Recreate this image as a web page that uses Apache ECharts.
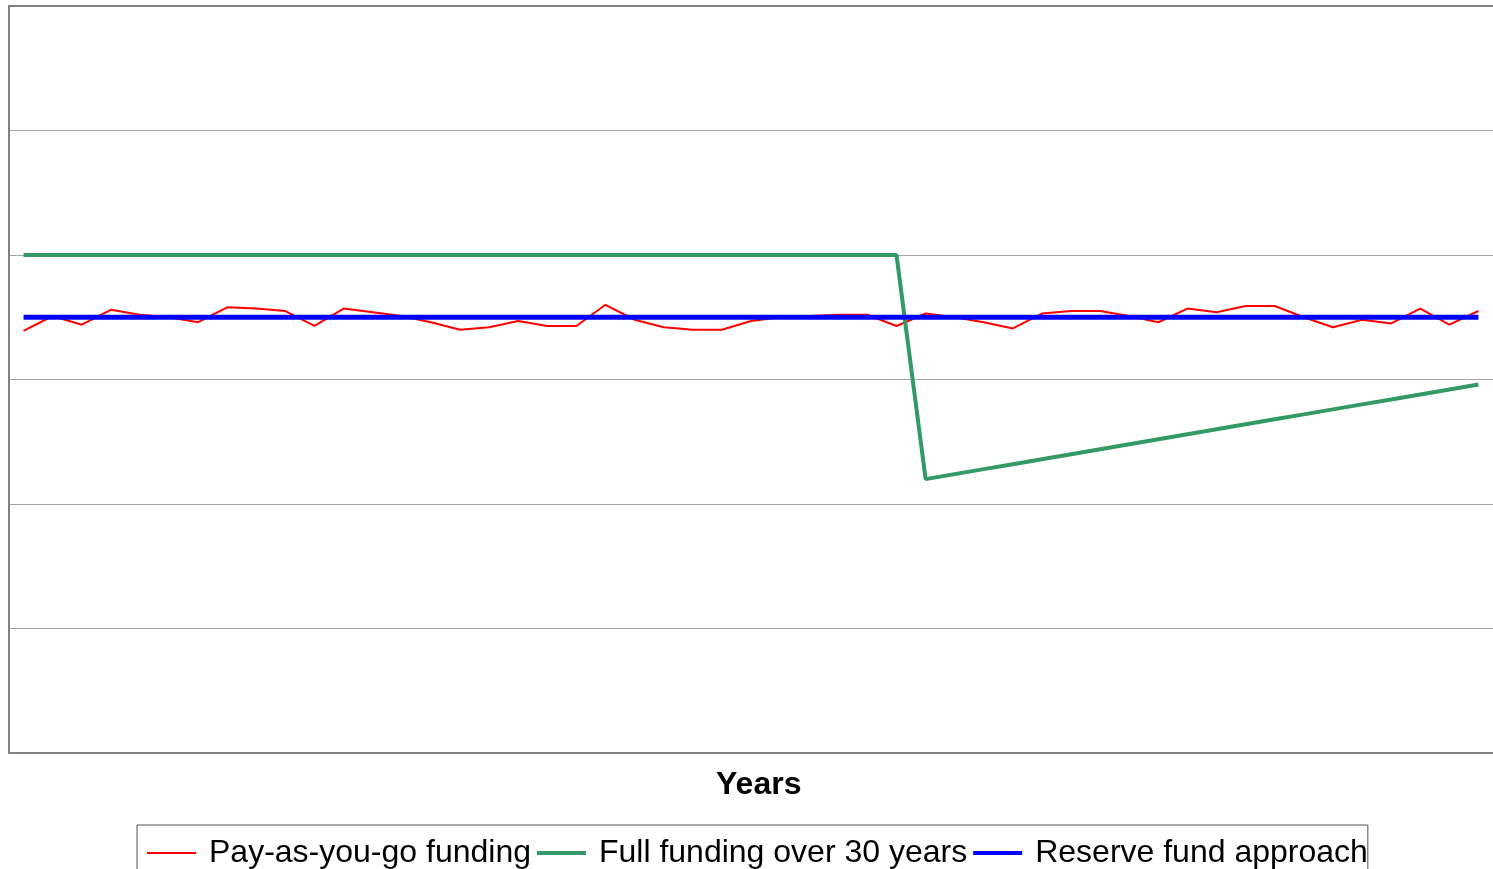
<!DOCTYPE html>
<html>
<head>
<meta charset="utf-8">
<script src="https://cdn.jsdelivr.net/npm/echarts@6/dist/echarts.min.js"></script>
<style>
  html, body { margin: 0; padding: 0; background: #fff; }
  #chart { width: 1493px; height: 869px; }
</style>
</head>
<body>
<div id="chart"></div>
<script>
// Year index 1..51
const years = Array.from({ length: 51 }, (_, i) => String(i + 1));

// Annual contribution under each funding approach (relative units)
const payAsYouGo = [
  3.39, 3.51, 3.44, 3.56, 3.52, 3.50, 3.46, 3.58, 3.57, 3.55,
  3.43, 3.57, 3.54, 3.51, 3.46, 3.40, 3.42, 3.47, 3.43, 3.43,
  3.60, 3.48, 3.42, 3.40, 3.40, 3.47, 3.50, 3.51, 3.52, 3.52,
  3.43, 3.53, 3.50, 3.46, 3.41, 3.53, 3.55, 3.55, 3.51, 3.46,
  3.57, 3.54, 3.59, 3.59, 3.50, 3.42, 3.48, 3.45, 3.57, 3.44,
  3.55
];

const fullFunding30 = [
  4.00, 4.00, 4.00, 4.00, 4.00, 4.00, 4.00, 4.00, 4.00, 4.00,
  4.00, 4.00, 4.00, 4.00, 4.00, 4.00, 4.00, 4.00, 4.00, 4.00,
  4.00, 4.00, 4.00, 4.00, 4.00, 4.00, 4.00, 4.00, 4.00, 4.00,
  4.00, 2.20, 2.24, 2.28, 2.32, 2.36, 2.40, 2.44, 2.48, 2.52,
  2.56, 2.60, 2.64, 2.68, 2.72, 2.76, 2.80, 2.84, 2.88, 2.92,
  2.96
];

const reserveFund = [
  3.50, 3.50, 3.50, 3.50, 3.50, 3.50, 3.50, 3.50, 3.50, 3.50,
  3.50, 3.50, 3.50, 3.50, 3.50, 3.50, 3.50, 3.50, 3.50, 3.50,
  3.50, 3.50, 3.50, 3.50, 3.50, 3.50, 3.50, 3.50, 3.50, 3.50,
  3.50, 3.50, 3.50, 3.50, 3.50, 3.50, 3.50, 3.50, 3.50, 3.50,
  3.50, 3.50, 3.50, 3.50, 3.50, 3.50, 3.50, 3.50, 3.50, 3.50,
  3.50
];

const chart = echarts.init(document.getElementById('chart'), null, { renderer: 'canvas' });

const font = 'Liberation Sans, Arial, Helvetica, sans-serif';
const frame = { color: '#808080', width: 2 };

chart.setOption({
  animation: false,
  backgroundColor: '#ffffff',
  title: {
    text: 'Years',
    left: 711,
    top: 764,
    textStyle: { fontFamily: font, fontSize: 32, fontWeight: 'bold', color: '#000' }
  },
  grid: {
    left: 9,
    right: 0,
    top: 6,
    bottom: 116,
    show: false
  },
  legend: {
    left: 137,
    top: 825,
    orient: 'horizontal',
    itemWidth: 49,
    itemHeight: 4,
    itemGap: 6,
    padding: [12, 0, 10, 10],
    borderColor: '#505050',
    borderWidth: 1,
    borderRadius: 0,
    icon: 'rect',
    textStyle: {
      fontFamily: font,
      fontSize: 32,
      color: '#000',
      padding: [0, 0, 0, 8]
    },
    data: [
      { name: 'Pay-as-you-go funding', itemStyle: { color: '#ff0000' }, icon: 'path://M0,0 L50,0 L50,2 L0,2 Z' },
      { name: 'Full funding over 30 years', itemStyle: { color: '#339966' } },
      { name: 'Reserve fund approach', itemStyle: { color: '#0000ff' } }
    ]
  },
  xAxis: [
    {
      type: 'category',
      data: years,
      boundaryGap: true,
      position: 'bottom',
      axisLine: { show: true, lineStyle: frame },
      axisTick: { show: false },
      axisLabel: { show: false },
      splitLine: { show: false }
    },
    {
      // top edge of the plot frame
      type: 'category',
      data: years,
      position: 'top',
      axisLine: { show: true, lineStyle: frame },
      axisTick: { show: false },
      axisLabel: { show: false },
      splitLine: { show: false }
    }
  ],
  yAxis: {
    type: 'value',
    min: 0,
    max: 6,
    interval: 1,
    axisLine: { show: true, lineStyle: frame },
    axisTick: { show: false },
    axisLabel: { show: false },
    splitLine: { show: true, lineStyle: { color: '#a6a6a6', width: 1 } }
  },
  series: [
    {
      name: 'Pay-as-you-go funding',
      type: 'line',
      data: payAsYouGo,
      symbol: 'none',
      lineStyle: { color: '#ff0000', width: 2 },
      itemStyle: { color: '#ff0000' },
      z: 2
    },
    {
      name: 'Full funding over 30 years',
      type: 'line',
      data: fullFunding30,
      symbol: 'none',
      lineStyle: { color: '#339966', width: 4 },
      itemStyle: { color: '#339966' },
      z: 3
    },
    {
      name: 'Reserve fund approach',
      type: 'line',
      data: reserveFund,
      symbol: 'none',
      lineStyle: { color: '#0000ff', width: 5 },
      itemStyle: { color: '#0000ff' },
      z: 4
    }
  ]
});
</script>
</body>
</html>
